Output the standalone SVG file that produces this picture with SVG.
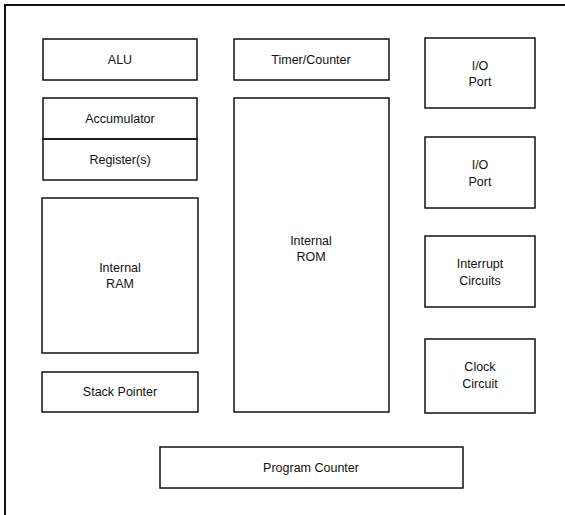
<svg xmlns="http://www.w3.org/2000/svg" width="565" height="515" viewBox="0 0 565 515">
<style>
rect{fill:none;stroke:#111;stroke-width:1.5}
text{font-family:"Liberation Sans",Arial,sans-serif;font-size:12.5px;fill:#111;text-anchor:middle}
.frame{stroke:#111;stroke-width:2;fill:none}
</style>
<rect width="565" height="515" style="fill:#fff;stroke:none"/>
<path class="frame" d="M5,515 V5 H565"/>
<g id="alu"><rect x="43" y="39" width="154" height="41"/><text x="120" y="64">ALU</text></g>
<g id="accumulator"><rect x="43" y="98" width="154" height="41"/><text x="120" y="123">Accumulator</text></g>
<g id="registers"><rect x="43" y="139" width="154" height="41"/><text x="120" y="164">Register(s)</text></g>
<g id="ram"><rect x="42" y="198" width="156" height="155"/><text x="120" y="272">Internal</text><text x="120" y="288">RAM</text></g>
<g id="stack"><rect x="42" y="372" width="156" height="40"/><text x="120" y="396">Stack Pointer</text></g>
<g id="timer"><rect x="234" y="39" width="155" height="41"/><text x="311" y="64">Timer/Counter</text></g>
<g id="rom"><rect x="234" y="98" width="155" height="314"/><text x="311" y="245">Internal</text><text x="311" y="261">ROM</text></g>
<g id="io1"><rect x="425" y="38" width="110" height="70"/><text x="480" y="70">I/O</text><text x="480" y="86">Port</text></g>
<g id="io2"><rect x="425" y="137" width="110" height="71"/><text x="480" y="169">I/O</text><text x="480" y="186">Port</text></g>
<g id="interrupt"><rect x="425" y="236" width="110" height="71"/><text x="480" y="268">Interrupt</text><text x="480" y="285">Circuits</text></g>
<g id="clock"><rect x="425" y="339" width="110" height="74"/><text x="480" y="371">Clock</text><text x="480" y="388">Circuit</text></g>
<g id="pc"><rect x="160" y="447" width="303" height="41"/><text x="311" y="472">Program Counter</text></g>
<g id="connectors"></g>
</svg>
